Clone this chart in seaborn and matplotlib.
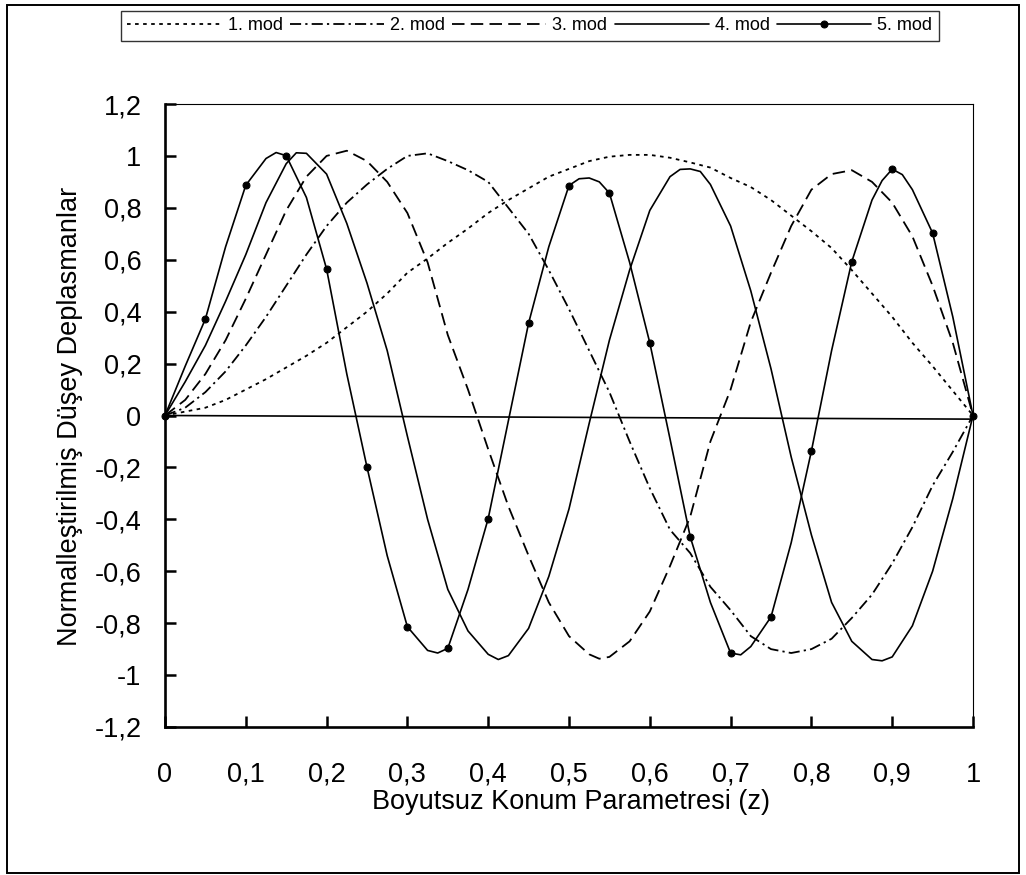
import matplotlib
matplotlib.use("Agg")
import matplotlib.pyplot as plt
from matplotlib.patches import Rectangle
import pandas as pd
import seaborn as sns

# Dimensionless position along the member
z = [0.0, 0.025, 0.05, 0.075, 0.1, 0.125, 0.15, 0.175, 0.2, 0.225,
     0.25, 0.275, 0.3, 0.325, 0.35, 0.375, 0.4, 0.425, 0.45, 0.475,
     0.5, 0.525, 0.55, 0.575, 0.6, 0.625, 0.65, 0.675, 0.7, 0.725,
     0.75, 0.775, 0.8, 0.825, 0.85, 0.875, 0.9, 0.925, 0.95, 0.975, 1.0]

# Normalised vertical displacements of the first five modes
mod1 = [0.0, 0.015, 0.03, 0.06, 0.10, 0.14, 0.185, 0.23, 0.28, 0.34,
        0.40, 0.47, 0.55, 0.605, 0.665, 0.72, 0.78, 0.83, 0.875, 0.92,
        0.95, 0.98, 0.997, 1.004, 1.004, 0.993, 0.975, 0.955, 0.915, 0.88,
        0.83, 0.77, 0.71, 0.645, 0.56, 0.47, 0.38, 0.28, 0.19, 0.095, 0.0]
mod2 = [0.0, 0.03, 0.09, 0.17, 0.27, 0.38, 0.50, 0.62, 0.73, 0.82,
        0.89, 0.95, 1.00, 1.01, 0.98, 0.945, 0.90, 0.80, 0.70, 0.56,
        0.41, 0.25, 0.09, -0.10, -0.28, -0.44, -0.53, -0.66, -0.75, -0.85,
        -0.90, -0.915, -0.90, -0.86, -0.78, -0.69, -0.57, -0.43, -0.27, -0.14, 0.0]
mod3 = [0.0, 0.06, 0.16, 0.29, 0.45, 0.62, 0.79, 0.92, 1.0, 1.02,
        0.98, 0.90, 0.78, 0.59, 0.31, 0.10, -0.13, -0.35, -0.54, -0.72,
        -0.85, -0.92, -0.93, -0.87, -0.755, -0.58, -0.39, -0.10, 0.10, 0.36,
        0.55, 0.73, 0.87, 0.93, 0.945, 0.90, 0.82, 0.69, 0.50, 0.28, 0.0]
mod4 = [0.0, 0.13, 0.27, 0.44, 0.62, 0.82, 0.97, 1.01, 0.93, 0.74,
        0.51, 0.25, -0.08, -0.40, -0.67, -0.83, -0.92, -0.925, -0.82, -0.62,
        -0.36, -0.03, 0.29, 0.56, 0.79, 0.92, 0.95, 0.89, 0.73, 0.48,
        0.18, -0.16, -0.46, -0.72, -0.87, -0.94, -0.93, -0.81, -0.60, -0.32, 0.0]
mod5 = [0.0, 0.19, 0.372, 0.65, 0.887, 0.99, 1.001, 0.84, 0.564, 0.16,
        -0.199, -0.54, -0.814, -0.905, -0.897, -0.67, -0.397, -0.02, 0.356, 0.65,
        0.886, 0.915, 0.857, 0.59, 0.28, -0.09, -0.467, -0.72, -0.915, -0.89,
        -0.776, -0.49, -0.137, 0.25, 0.593, 0.83, 0.949, 0.87, 0.703, 0.38, 0.0]

# Additional readings around the crests and troughs
mod3_extra_z = [0.5375]
mod3_extra_v = [-0.937]
mod4_extra_z = [0.1625, 0.4125, 0.6375, 0.6625, 0.8875]
mod4_extra_v = [1.012, -0.94, 0.948, 0.94, -0.945]
mod5_extra_z = [0.1375, 0.3375, 0.5125, 0.5375, 0.7125, 0.8875, 0.9125]
mod5_extra_v = [1.013, -0.915, 0.912, 0.9, -0.922, 0.905, 0.928]

# Points of the fifth mode that carry a marker (every 0.05)
mod5_marker_z = [0.0, 0.05, 0.1, 0.15, 0.2, 0.25, 0.3, 0.35, 0.4, 0.45, 0.5,
                 0.55, 0.6, 0.65, 0.7, 0.75, 0.8, 0.85, 0.9, 0.95, 1.0]

# Reference line through the origin
base_z = [0.0, 1.0]
base_v = [0.0, -0.014]

mode_names = ["1. mod", "2. mod", "3. mod", "4. mod", "5. mod"]

x_ticks = [0.0, 0.1, 0.2, 0.3, 0.4, 0.5, 0.6, 0.7, 0.8, 0.9, 1.0]
x_tick_labels = ["0", "0,1", "0,2", "0,3", "0,4", "0,5", "0,6", "0,7", "0,8", "0,9", "1"]
y_ticks = [-1.2, -1.0, -0.8, -0.6, -0.4, -0.2, 0.0, 0.2, 0.4, 0.6, 0.8, 1.0, 1.2]
y_tick_labels = ["-1,2", "-1", "-0,8", "-0,6", "-0,4", "-0,2", "0",
                 "0,2", "0,4", "0,6", "0,8", "1", "1,2"]

sns.set_theme(style="white")
plt.rcParams["font.family"] = ["Liberation Sans", "DejaVu Sans"]
plt.rcParams["lines.scale_dashes"] = False


def mode_frame(name, values, extra_z=(), extra_v=()):
    frame = pd.DataFrame({"z": list(z) + list(extra_z),
                          "v": list(values) + list(extra_v)})
    frame = frame.sort_values("z").reset_index(drop=True)
    frame["mod"] = name
    return frame


df = pd.concat([
    mode_frame("1. mod", mod1),
    mode_frame("2. mod", mod2),
    mode_frame("3. mod", mod3, mod3_extra_z, mod3_extra_v),
    mode_frame("4. mod", mod4, mod4_extra_z, mod4_extra_v),
    mode_frame("5. mod", mod5, mod5_extra_z, mod5_extra_v),
], ignore_index=True)
base_df = pd.DataFrame({"z": base_z, "v": base_v})

W, H = 1026, 875
fig = plt.figure(figsize=(W / 100, H / 100), dpi=100)
fig.patch.set_facecolor("white")
ax = fig.add_axes([165 / W, 1 - 727 / H, 808 / W, 623 / H])

styles = {
    "1. mod": dict(linestyle=(0, (2.6, 3.2)), linewidth=1.3),
    "2. mod": dict(linestyle=(0, (8.0, 3.0, 1.6, 3.0)), linewidth=1.3),
    "3. mod": dict(linestyle=(0, (9.0, 4.5)), linewidth=1.3),
    "4. mod": dict(linestyle="-", linewidth=1.2),
    "5. mod": dict(linestyle="-", linewidth=1.2, marker="o", markersize=5.0,
                   markerfacecolor="black", markeredgecolor="black",
                   clip_on=False),
}

sns.lineplot(data=base_df, x="z", y="v", ax=ax, color="black",
             linewidth=1.2, estimator=None, sort=False, legend=False)

for name in mode_names:
    sub = df[df["mod"] == name].reset_index(drop=True)
    kws = dict(styles[name])
    if name == "5. mod":
        kws["markevery"] = [i for i, zz in enumerate(sub["z"])
                            if any(abs(zz - m) < 1e-9 for m in mod5_marker_z)]
    sns.lineplot(data=sub, x="z", y="v", ax=ax, color="black",
                 estimator=None, sort=False, label=name, **kws)

if ax.get_legend() is not None:
    ax.get_legend().remove()

ax.set_xlim(0, 1)
ax.set_ylim(-1.2, 1.2)
ax.set_xticks(x_ticks)
ax.set_xticklabels(x_tick_labels)
ax.set_yticks(y_ticks)
ax.set_yticklabels(y_tick_labels)
ax.tick_params(axis="both", which="major", direction="in", length=8, width=1.8,
               color="black", labelsize=19.5, labelcolor="black",
               bottom=True, left=True, top=False, right=False)
ax.tick_params(axis="x", pad=25)
ax.tick_params(axis="y", pad=17)

for side in ["left", "bottom"]:
    ax.spines[side].set_color("black")
    ax.spines[side].set_linewidth(1.9)
for side in ["top", "right"]:
    ax.spines[side].set_color("black")
    ax.spines[side].set_linewidth(0.8)

ax.set_xlabel("")
ax.set_ylabel("")
fig.text(571 / W, 1 - 802 / H, "Boyutsuz Konum Parametresi (z)",
         ha="center", va="center", fontsize=19.5, color="black")
fig.text(70 / W, 1 - 416 / H, "Normalleştirilmiş Düşey Deplasmanlar",
         ha="center", va="center", rotation=90, fontsize=19.5, color="black")

handles, labels = ax.get_legend_handles_labels()
leg = fig.legend(handles, labels, loc="upper left",
                 bbox_to_anchor=(121 / W, 1 - 11 / H), ncol=5,
                 fontsize=13, frameon=True, fancybox=False, shadow=False,
                 handlelength=5.2, handletextpad=0.35, columnspacing=0.4,
                 borderpad=0.35, borderaxespad=0.0, numpoints=1)
leg.get_frame().set_edgecolor("black")
leg.get_frame().set_linewidth(1.0)
for t in leg.get_texts():
    t.set_color("black")

# Chart area border
fig.patches.append(Rectangle((7 / W, 1 - 873 / H), 1012 / W, 868 / H,
                             transform=fig.transFigure, fill=False,
                             edgecolor="black", linewidth=1.4))

fig.savefig("out.png", dpi=100)
